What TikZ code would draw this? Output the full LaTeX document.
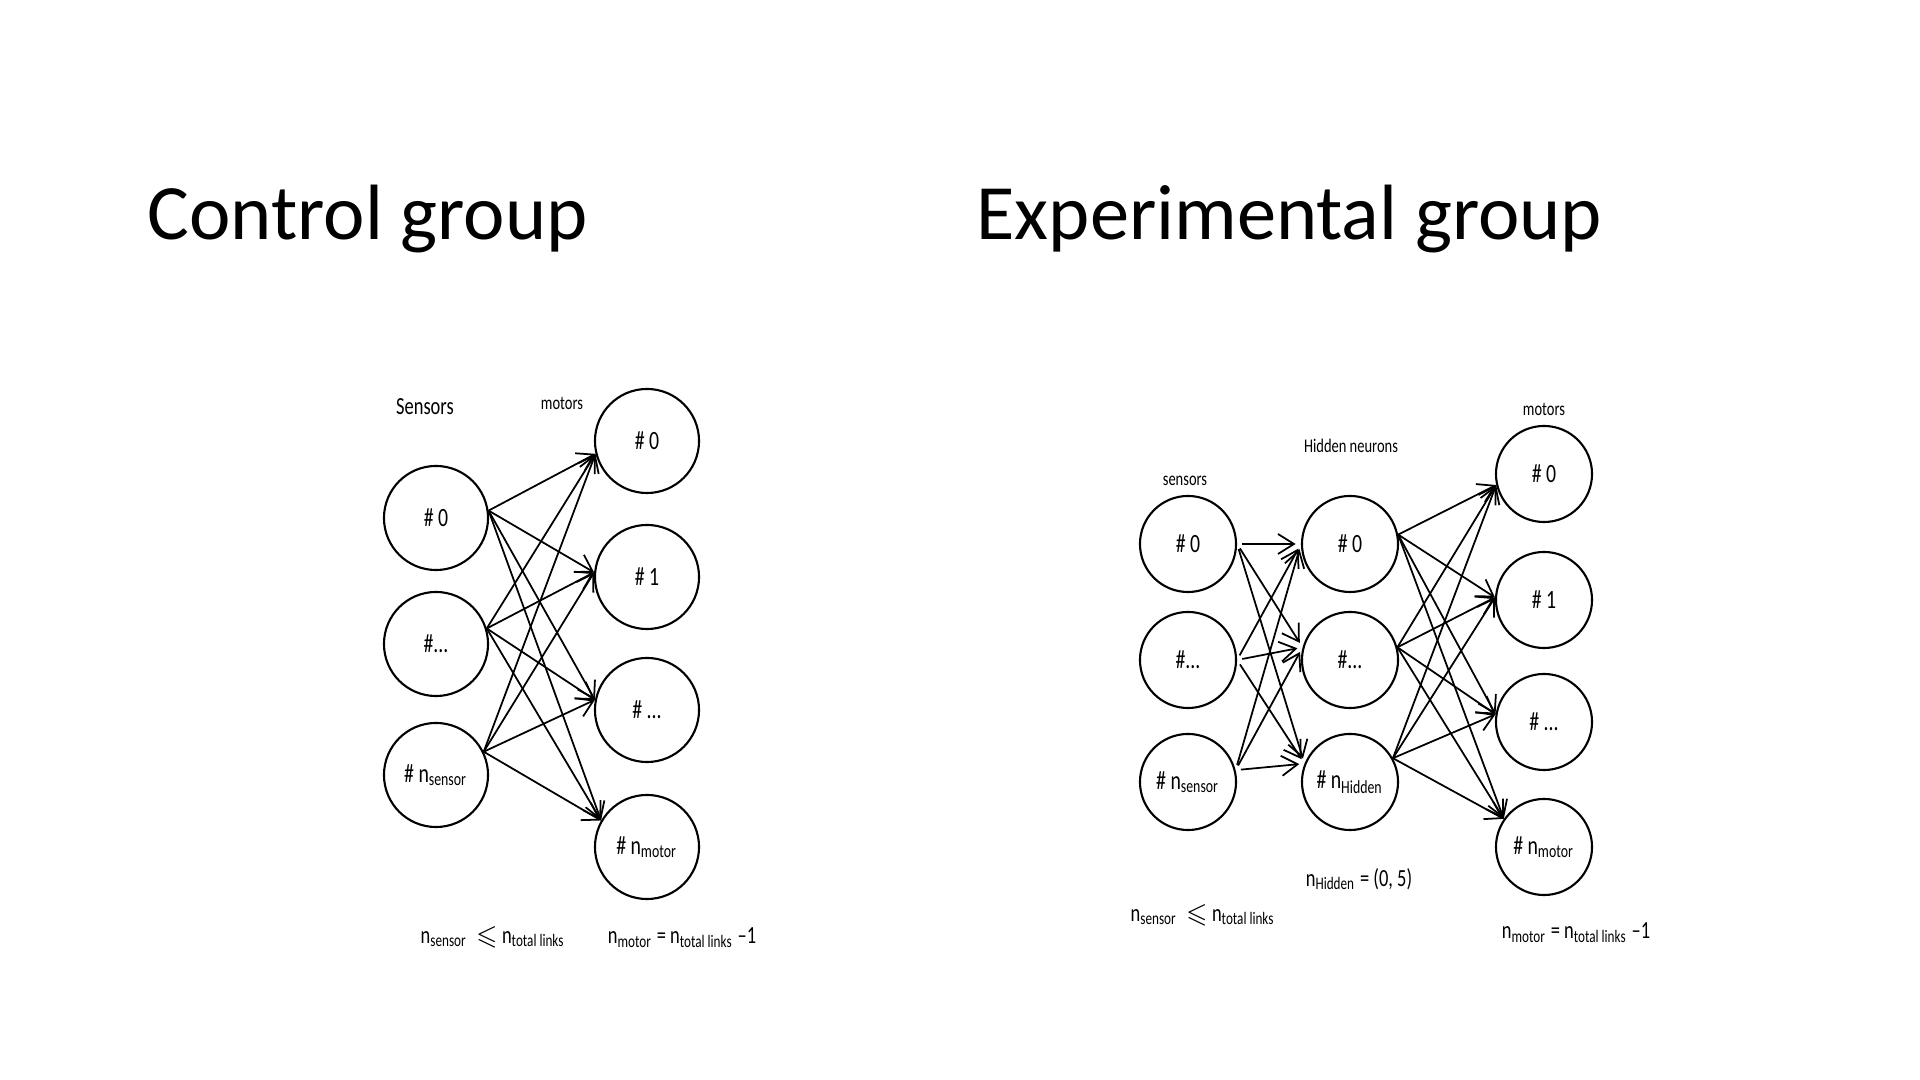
\documentclass[tikz,border=0pt]{standalone}
\usepackage{fontspec}
\usepackage{amssymb}
\setmainfont{Carlito}
\newfontfamily\handfont[FakeStretch=0.75]{Carlito}
\usetikzlibrary{arrows.meta}

\begin{document}
\begin{tikzpicture}[x=0.01cm, y=-0.01cm,
        neuron/.style={draw, circle, line width=0.6pt, minimum size=1.04cm, inner sep=0pt, font=\handfont\fontsize{7.5}{8}\selectfont},
        smallneuron/.style={neuron, minimum size=0.96cm},
        layer/.style={font=\handfont\fontsize{5.5}{6}\selectfont},
        note/.style={font=\handfont\fontsize{7}{8}\selectfont},
        title/.style={anchor=base west, inner sep=0pt, font=\fontsize{22.3}{26}\selectfont},
        link/.style={line width=0.5pt, -{Straight Barb[length=1.6mm, width=2mm]}}]
    \useasboundingbox (0,0) rectangle (1920,1080);
    \fill[white] (0,0) rectangle (1920,1080);

    \node[title] (ctitle) at (147,240) {Control group};
    \node[title] (etitle) at (976,240) {Experimental group};

    % control group
    \node[layer, font=\handfont\fontsize{7}{8}\selectfont] (csensors) at (425,407) {Sensors};
    \node[layer] (cmotors) at (562,403) {motors};
    \node[neuron] (s0) at (436,518) {\# 0};
    \node[neuron] (s1) at (436,644) {\#...};
    \node[neuron] (s2) at (436,775) {\# n\textsubscript{sensor}};
    \node[neuron] (m0) at (647,441) {\# 0};
    \node[neuron] (m1) at (647,577) {\# 1};
    \node[neuron] (m2) at (647,710) {\# ...};
    \node[neuron] (m3) at (647,847) {\# n\textsubscript{motor}};
    \foreach \s/\a in {s0/8, s1/17, s2/26} {
        \foreach \m/\b in {m0/194, m1/175, m2/169, m3/150} {
            \draw[link] (\s.\a) -- (\m.\b);
        }
    }
    \node[note] (clinks) at (493,937) {n\textsubscript{sensor}\ \ $\leqslant$\ n\textsubscript{total links}};
    \node[note] (cmotor) at (682,938) {n\textsubscript{motor} = n\textsubscript{total links} \textendash1};

    % experimental group
    \node[layer] (esensors) at (1185,481) {sensors};
    \node[layer] (ehidden) at (1351,446) {Hidden neurons};
    \node[layer] (emotors) at (1544,409) {motors};
    \node[smallneuron] (es0) at (1188,544) {\# 0};
    \node[smallneuron] (es1) at (1188,660) {\#...};
    \node[smallneuron] (es2) at (1188,782) {\# n\textsubscript{sensor}};
    \node[smallneuron] (eh0) at (1350,544) {\# 0};
    \node[smallneuron] (eh1) at (1350,660) {\#...};
    \node[smallneuron] (eh2) at (1350,782) {\# n\textsubscript{Hidden}};
    \node[smallneuron] (em0) at (1544,474) {\# 0};
    \node[smallneuron] (em1) at (1544,600) {\# 1};
    \node[smallneuron] (em2) at (1544,722) {\# ...};
    \node[smallneuron] (em3) at (1544,847) {\# n\textsubscript{motor}};
    \foreach \s/\a in {es0/0, es1/0, es2/14} {
        \foreach \h/\b in {eh0/180, eh1/165, eh2/158} {
            \draw[link, shorten <=1.5pt, shorten >=1.5pt] (\s.\a) -- (\h.\b);
        }
    }
    \foreach \h/\a in {eh0/11, eh1/15, eh2/29} {
        \foreach \m/\b in {em0/193, em1/177, em2/171, em3/145} {
            \draw[link] (\h.\a) -- (\m.\b);
        }
    }
    \node[note] (ehn) at (1359,879) {n\textsubscript{Hidden} = (0, 5)};
    \node[note] (elinks) at (1203,915) {n\textsubscript{sensor}\ \ $\leqslant$\ n\textsubscript{total links}};
    \node[note] (emotor) at (1576,933) {n\textsubscript{motor} = n\textsubscript{total links} \textendash1};
\end{tikzpicture}
\end{document}
